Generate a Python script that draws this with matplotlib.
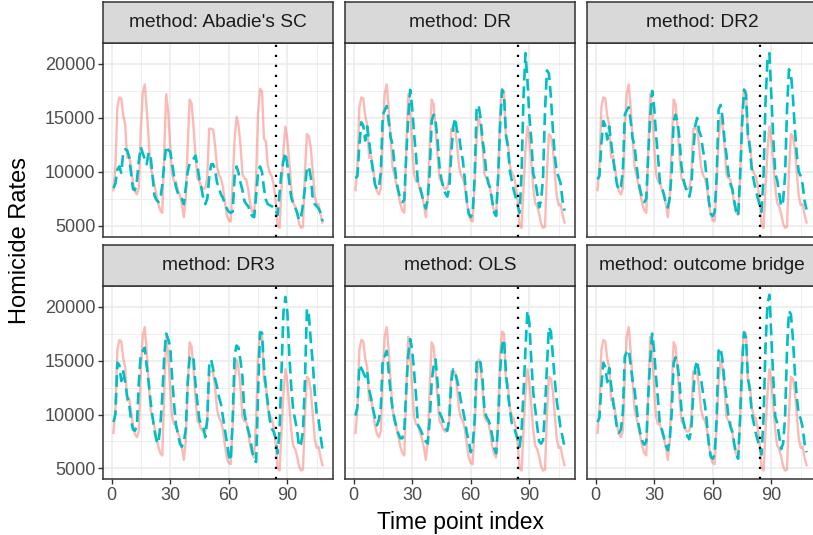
import numpy as np
import matplotlib
matplotlib.use("Agg")
import matplotlib.pyplot as plt
from matplotlib.ticker import FixedLocator

plt.rcParams['font.family'] = ['Liberation Sans', 'DejaVu Sans']

time_index = list(range(1, 109))

observed = [8300, 10500, 16000, 16900, 16800, 15200, 14400, 11300, 11500, 10300,
            9000, 8200, 7900, 8500, 14000, 17300, 18100, 15900, 13100, 10400,
            9700, 8800, 7900, 7000, 6400, 6200, 12000, 17200, 15600, 12500,
            9800, 9100, 9100, 8300, 7800, 7000, 5800, 7500, 12500, 16700,
            16300, 14100, 11500, 9400, 9100, 8600, 8400, 8500, 9500, 14000,
            14000, 13900, 12500, 10500, 9700, 9400, 8600, 7200, 6000, 5500,
            5400, 9000, 13000, 15100, 14300, 12500, 9800, 9400, 9300, 8300,
            7000, 6300, 6000, 9500, 15500, 17700, 17500, 13100, 12800, 10600,
            9900, 9600, 8800, 7300, 5000, 4800, 8500, 12000, 14200, 13000,
            10800, 8500, 7100, 6800, 6100, 5200, 4800, 4900, 10000, 13500,
            13300, 12200, 10000, 7800, 6900, 7000, 6000, 5300]

est_abadie = [8500, 8900, 10200, 10500, 9900, 11800, 12100, 12000, 11400, 9900,
              8400, 8300, 9200, 11000, 12300, 11700, 11200, 10700, 11800, 11500,
              9600, 7800, 7400, 7200, 7500, 8800, 10800, 12400, 12000, 11900,
              10800, 9600, 8600, 8000, 7600, 7500, 7000, 8500, 10000, 10800,
              11000, 11200, 11500, 10500, 9300, 8500, 7500, 7000, 7500, 9500,
              10700, 10700, 10200, 9000, 8500, 7900, 7600, 7000, 6600, 6300,
              6200, 6300, 9500, 10500, 9900, 9000, 8300, 7300, 7000, 6800,
              6200, 5900, 5800, 7800, 10000, 10500, 10000, 8500, 7400, 7000,
              6900, 6800, 6800, 6500, 6000, 8000, 10000, 11000, 11800, 10600,
              9000, 7600, 7100, 6700, 6200, 5500, 5800, 7000, 8500, 10300,
              10500, 9500, 7500, 7000, 6800, 6600, 6200, 5400]

est_dr = [9400, 9600, 12500, 14600, 14300, 12900, 14200, 12800, 11300, 10100,
          8800, 8400, 8500, 10000, 15300, 15700, 16100, 14700, 13200, 12500,
          10600, 9100, 8200, 7500, 7200, 7400, 11600, 15000, 17600, 16000,
          13500, 11500, 8800, 8600, 7900, 7100, 6600, 7500, 10000, 14700,
          15300, 14700, 13000, 10500, 9300, 8600, 8000, 7700, 8500, 11600,
          14100, 15000, 13800, 13400, 12000, 11000, 9200, 7300, 6100, 5800,
          6200, 9500, 15800, 16200, 15000, 13000, 11700, 9800, 8900, 8500,
          7300, 6200, 5900, 9500, 14200, 17600, 17200, 13500, 12300, 10100,
          9200, 8300, 7600, 6900, 6200, 9800, 17000, 21000, 18500, 15100,
          13000, 9800, 9200, 8000, 6700, 7300, 9500, 15700, 19400, 19100,
          17000, 14000, 11500, 10000, 9500, 8900, 7300, 6400]

est_dr2 = [9300, 9600, 12600, 14700, 14300, 13000, 14200, 12700, 11200, 10000,
           8800, 8300, 8600, 10100, 15300, 15700, 16000, 14700, 13100, 12400,
           10600, 9100, 8200, 7500, 7200, 7500, 11700, 15100, 17500, 16000,
           13400, 11400, 8900, 8600, 7900, 7100, 6700, 7600, 10100, 14700,
           15300, 14600, 13000, 10500, 9300, 8600, 8000, 7700, 8600, 11700,
           14200, 15000, 13800, 13300, 12000, 11000, 9200, 7300, 6100, 5900,
           6300, 9600, 15800, 16200, 15000, 13000, 11600, 9800, 8900, 8400,
           7300, 6300, 5900, 9600, 14300, 17600, 17200, 13500, 12200, 10100,
           9200, 8300, 7600, 6900, 6300, 9700, 16500, 20300, 21000, 17000,
           13000, 9800, 9200, 8000, 6800, 7300, 9600, 15800, 19500, 19100,
           17000, 14000, 11600, 10000, 9600, 8800, 7300, 6500]

est_dr3 = [9300, 10000, 14800, 14600, 13100, 14000, 13000, 11700, 11000, 9500,
           8600, 8500, 9000, 13000, 15700, 15900, 16200, 14500, 13000, 11200,
           9800, 8500, 7600, 7300, 9000, 11700, 15500, 17500, 17000, 16300,
           13500, 11000, 9000, 8200, 7300, 7000, 7500, 8600, 13000, 15300,
           15500, 15100, 12800, 11000, 9500, 9000, 8800, 7900, 9500, 14500,
           15100, 14200, 13300, 12600, 11600, 11000, 9800, 8600, 7500, 6200,
           5700, 9500, 15500, 16400, 16200, 15000, 13500, 10100, 9200, 8500,
           7800, 6600, 5800, 5600, 12000, 17600, 17600, 14500, 12500, 11000,
           9500, 8700, 8400, 7800, 6400, 8500, 14000, 19500, 20900, 19500,
           15500, 12500, 10400, 9500, 8500, 7000, 7300, 8500, 13200, 19800,
           19200, 16800, 14800, 12000, 10100, 9500, 8000, 6700]

est_ols = [9900, 10700, 14600, 14300, 13900, 13500, 14000, 12300, 11500, 10500,
           9700, 9000, 9500, 10700, 15300, 15400, 15900, 14000, 12000, 10500,
           9500, 8800, 8200, 7800, 7800, 8500, 12300, 15500, 17000, 16000,
           14000, 11700, 9000, 8700, 8300, 7800, 7500, 7300, 9500, 13000,
           14500, 15100, 13000, 10200, 9800, 9300, 8700, 8500, 9500, 13000,
           14200, 13900, 13200, 12300, 11200, 10400, 9500, 8300, 7500, 6500,
           7200, 9500, 14800, 15200, 14800, 13300, 10500, 9800, 9500, 9000,
           8000, 6900, 6400, 9000, 14000, 16400, 17000, 13900, 12000, 10500,
           9200, 8900, 8300, 7700, 7000, 8500, 12000, 16000, 19600, 18500,
           15000, 12000, 10500, 8900, 7500, 7300, 7600, 10500, 14500, 18100,
           17700, 15500, 13200, 11300, 10000, 8700, 7900, 7000]

est_bridge = [9300, 9700, 12700, 14800, 14400, 13000, 14300, 12700, 11200, 10000,
              8800, 8300, 8600, 10200, 15400, 15800, 16000, 14600, 13100, 12300,
              10600, 9100, 8200, 7500, 7200, 7500, 11700, 15100, 17500, 15900,
              13400, 11300, 8900, 8600, 7900, 7100, 6700, 7700, 10200, 14800,
              15300, 14600, 13000, 10400, 9300, 8600, 8000, 7700, 8600, 11800,
              14300, 15000, 13800, 13300, 12000, 10900, 9200, 7300, 6100, 5900,
              6300, 9700, 15900, 16200, 15000, 13000, 11600, 9800, 8900, 8400,
              7300, 6300, 5900, 9700, 14400, 17600, 17100, 13400, 12200, 10100,
              9200, 8300, 7600, 6900, 6300, 9700, 16300, 20200, 21100, 17200,
              13200, 9800, 9200, 8000, 6800, 7300, 9700, 15900, 19600, 19300,
              17100, 14000, 11600, 10000, 9600, 8800, 7300, 6500]

methods = ["Abadie's SC", "DR", "DR2", "DR3", "OLS", "outcome bridge"]
estimates = [est_abadie, est_dr, est_dr2, est_dr3, est_ols, est_bridge]
intervention_time = 84

x_ticks = [0, 30, 60, 90]
y_ticks = [5000, 10000, 15000, 20000]

# ---------------- layout ----------------
W, H = 813, 535
fig = plt.figure(figsize=(W / 100, H / 100), dpi=100)

panel_w = 230
col_left = [103, 345, 587]
row_top = [43.3, 286]          # top of panel (px from top)
panel_h = 193.4
strip_h = 41

all_vals = np.concatenate([observed] + estimates)
ymin, ymax = all_vals.min(), all_vals.max()
yr = ymax - ymin
ylim = (ymin - 0.05 * yr, ymax + 0.05 * yr)
xr = time_index[-1] - time_index[0]
xlim = (time_index[0] - 0.05 * xr, time_index[-1] + 0.05 * xr)

grid_col = '#EBEBEB'
border_col = '#333333'

for i, (m, est) in enumerate(zip(methods, estimates)):
    r, c = divmod(i, 3)
    left = col_left[c] / W
    bottom = (H - row_top[r] - panel_h) / H
    ax = fig.add_axes([left, bottom, panel_w / W, panel_h / H])
    ax.set_xlim(*xlim)
    ax.set_ylim(*ylim)
    ax.set_facecolor('white')
    ax.xaxis.set_major_locator(FixedLocator(x_ticks))
    ax.xaxis.set_minor_locator(FixedLocator([15, 45, 75, 105]))
    ax.yaxis.set_major_locator(FixedLocator(y_ticks))
    ax.yaxis.set_minor_locator(FixedLocator([7500, 12500, 17500]))
    ax.grid(which='major', color=grid_col, lw=1.1, zorder=0)
    ax.grid(which='minor', color=grid_col, lw=0.55, zorder=0)
    ax.set_axisbelow(True)
    for s in ax.spines.values():
        s.set_color(border_col)
        s.set_linewidth(1.1)

    ax.plot(time_index, observed, color='#F8766D', alpha=0.5, lw=1.7,
            solid_joinstyle='round', zorder=2)
    ax.plot(time_index, est, color='#00BFC4', lw=1.9,
            linestyle=(0, (4.5, 2.2)), zorder=3)
    ax.axvline(intervention_time, color='black', lw=1.6,
               linestyle=(0, (1, 3.5)), zorder=4)

    ax.tick_params(which='minor', length=0)
    ax.tick_params(which='major', length=3.5, width=1.0, color=border_col,
                   labelsize=13, labelcolor='#4D4D4D', pad=2)
    if c == 0:
        ax.set_yticklabels([str(v) for v in y_ticks])
    else:
        ax.tick_params(axis='y', length=0, labelleft=False)
    if r == 1:
        ax.set_xticklabels([str(v) for v in x_ticks])
    else:
        ax.tick_params(axis='x', length=0, labelbottom=False)

    # strip
    sax = fig.add_axes([left, (H - row_top[r]) / H, panel_w / W, strip_h / H])
    sax.set_facecolor('#D9D9D9')
    sax.set_xticks([])
    sax.set_yticks([])
    for s in sax.spines.values():
        s.set_color(border_col)
        s.set_linewidth(1.1)
    sax.text(0.5, 0.5, f"method: {m}", ha='center', va='center',
             fontsize=13.8, color='#1A1A1A', transform=sax.transAxes)

fig.text(460 / W, 1 - 522 / H, "Time point index", ha='center', va='center',
         fontsize=16.5, color='black')
fig.text(20 / W, 1 - 240 / H, "Homicide Rates", ha='center', va='center',
         rotation=90, fontsize=17, color='black')

fig.savefig("out.png", dpi=100)
